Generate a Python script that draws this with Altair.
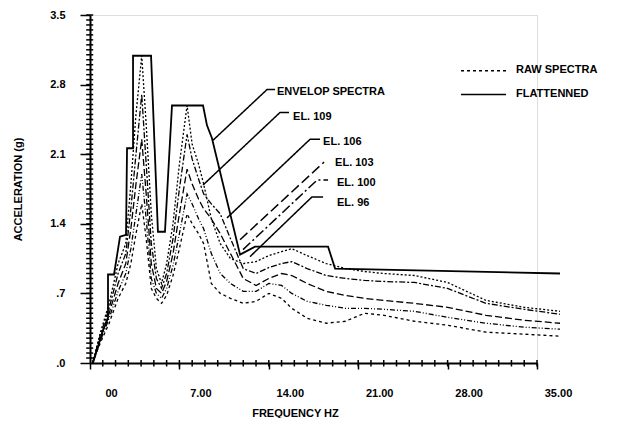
import altair as alt
import pandas as pd

# ---------------- data ----------------
RAW_FREQ = [0.2, 0.8, 1.5, 2.2, 2.8, 3.2, 3.6, 4.05, 4.4, 4.8, 5.2, 5.6, 6.0, 6.5, 7.0, 7.6,
            8.0, 8.5, 8.9, 9.5, 10.2, 11.0, 12.0, 13.0, 14.0, 15.0, 15.8, 17.0, 18.5, 20.0,
            21.5, 23.0, 25.4, 28.0, 31.0, 34.0, 36.8]
EL109 = [0.0, 0.3, 0.6, 1.0, 1.2, 1.8, 2.5, 3.09, 2.4, 1.5, 0.95, 0.8, 1.0, 1.4, 2.0, 2.59,
         2.2, 2.0, 1.8, 1.45, 1.2, 1.05, 1.0, 1.02, 1.08, 1.12, 1.15, 1.08, 1.0, 0.95,
         0.92, 0.9, 0.88, 0.81, 0.63, 0.56, 0.52]
EL106 = [0.0, 0.28, 0.55, 0.9, 1.1, 1.55, 2.1, 2.7, 2.0, 1.2, 0.85, 0.75, 0.9, 1.25, 1.75, 2.3,
         2.05, 1.85, 1.7, 1.6, 1.5, 1.25, 0.95, 0.9, 0.96, 1.0, 1.02, 0.95, 0.88, 0.85,
         0.83, 0.82, 0.81, 0.75, 0.6, 0.54, 0.49]
EL103 = [0.0, 0.25, 0.5, 0.8, 1.0, 1.35, 1.8, 2.25, 1.7, 1.0, 0.75, 0.7, 0.82, 1.1, 1.5, 1.95,
         1.8, 1.65, 1.55, 1.45, 1.3, 1.1, 0.85, 0.78, 0.85, 0.9, 0.88, 0.8, 0.72, 0.68,
         0.65, 0.63, 0.6, 0.56, 0.48, 0.43, 0.40]
EL100 = [0.0, 0.22, 0.45, 0.72, 0.9, 1.15, 1.5, 1.9, 1.45, 0.85, 0.7, 0.65, 0.75, 0.98, 1.3, 1.7,
         1.6, 1.45, 1.35, 1.1, 0.9, 0.8, 0.72, 0.72, 0.8, 0.78, 0.7, 0.62, 0.58, 0.55,
         0.55, 0.54, 0.52, 0.46, 0.4, 0.36, 0.34]
EL96 = [0.0, 0.2, 0.4, 0.65, 0.8, 1.0, 1.3, 1.6, 1.25, 0.75, 0.65, 0.6, 0.68, 0.88, 1.15, 1.5,
        1.4, 1.3, 1.2, 0.8, 0.7, 0.65, 0.6, 0.62, 0.7, 0.65, 0.55, 0.45, 0.4, 0.42,
        0.5, 0.48, 0.42, 0.38, 0.31, 0.29, 0.27]

ENV_FREQ = [0.23, 1.02, 1.41, 1.41, 1.88, 2.35, 2.82, 2.90, 3.37, 3.37, 4.78, 5.32, 5.87, 6.42,
            8.85, 9.16, 9.55, 11.75, 12.92, 18.64, 19.19, 36.8]
ENV_ACC = [0.0, 0.33, 0.45, 0.89, 0.89, 1.27, 1.29, 2.16, 2.16, 3.09, 3.09, 1.32, 1.32, 2.59,
           2.59, 2.39, 2.26, 1.09, 1.17, 1.17, 0.95, 0.90]

SERIES = ["EL.109", "EL.106", "EL.103", "EL.100", "EL.96"]
SERIES_DASH = [[2, 2], [6, 2, 2, 2], [7, 3], [5, 2, 1, 2, 1, 2], [3, 3]]

X_TICKS = [0, 7, 14, 21, 28, 35]
X_TICK_LABELS = ["00", "7.00", "14.00", "21.00", "28.00", "35.00"]
Y_TICKS = [0, 0.7, 1.4, 2.1, 2.8, 3.5]
Y_TICK_LABELS = [".0", ".7", "1.4", "2.1", "2.8", "3.5"]
X_MINOR = [float(v) for v in range(1, 36)]
Y_MINOR = [round(i * 0.05, 2) for i in range(1, 71)]

LABEL_TEXT = ["ENVELOP SPECTRA", "EL. 109", "EL. 106", "EL. 103", "EL. 100", "EL. 96"]
LABEL_F = [14.64, 15.9, 18.25, 19.19, 19.34, 19.34]
LABEL_A = [2.73, 2.47, 2.22, 2.01, 1.81, 1.61]

LEADER_ID = ["ENV", "109", "106", "103", "100", "96", "LEG_RAW", "LEG_FLAT"]
LEADER_F = [[9.63, 13.86, 14.49], [8.85, 14.88, 15.58], [10.73, 17.23, 18.01], [11.75, 18.32],
            [11.98, 17.78, 18.64], [12.53, 17.38, 18.25], [29.05, 32.58], [29.05, 32.58]]
LEADER_A = [[2.24, 2.75, 2.75], [1.79, 2.52, 2.52], [1.46, 2.25, 2.25], [1.24, 2.02],
            [1.14, 1.84, 1.84], [1.07, 1.67, 1.67], [2.94, 2.94], [2.70, 2.70]]
LEADER_DASH = [[1, 0], [1, 0], [1, 0], [10, 4], [10, 3, 2, 3], [1, 0], [3, 3], [1, 0]]

LEGEND_TEXT = ["RAW SPECTRA", "FLATTENNED"]
LEGEND_F = [33.36, 33.36]
LEGEND_A = [2.95, 2.71]

# ---------------- tables ----------------
raw_rows = []
for name, vals in zip(SERIES, [EL109, EL106, EL103, EL100, EL96]):
    for i, (f, a) in enumerate(zip(RAW_FREQ, vals)):
        raw_rows.append({"series": name, "f": f, "a": a, "o": i})
raw_df = pd.DataFrame(raw_rows)

env_df = pd.DataFrame({"f": ENV_FREQ, "a": ENV_ACC, "o": list(range(len(ENV_FREQ)))})

lead_rows = []
for lid, fs, as_ in zip(LEADER_ID, LEADER_F, LEADER_A):
    for i, (f, a) in enumerate(zip(fs, as_)):
        lead_rows.append({"id": lid, "f": f, "a": a, "o": i})
lead_df = pd.DataFrame(lead_rows)

lab_df = pd.DataFrame({"t": LABEL_TEXT, "f": LABEL_F, "a": LABEL_A})
leg_df = pd.DataFrame({"t": LEGEND_TEXT, "f": LEGEND_F, "a": LEGEND_A})
# minor tick marks drawn as short segments straddling the axis lines
minor_rows = []
for k, v in enumerate(Y_MINOR):
    minor_rows.append({"id": "y%d" % k, "f": -0.3, "a": v, "o": 0})
    minor_rows.append({"id": "y%d" % k, "f": 0.25, "a": v, "o": 1})
for k, v in enumerate(X_MINOR):
    minor_rows.append({"id": "x%d" % k, "f": v, "a": -0.035, "o": 0})
    minor_rows.append({"id": "x%d" % k, "f": v, "a": 0.03, "o": 1})
minor_df = pd.DataFrame(minor_rows)

FONT = "Liberation Sans"

def js_arr(vals, quote=False):
    if quote:
        return "[" + ",".join("'%s'" % v for v in vals) + "]"
    return "[" + ",".join("%g" % v for v in vals) + "]"

x_expr = js_arr(X_TICK_LABELS, True) + "[indexof(" + js_arr(X_TICKS) + ", datum.value)]"
y_expr = js_arr(Y_TICK_LABELS, True) + "[indexof(" + js_arr(Y_TICKS) + ", datum.value)]"

xs = alt.Scale(domain=[0, 35], nice=False, zero=False)
ys = alt.Scale(domain=[0, 3.5], nice=False, zero=False)

x_major = alt.Axis(values=X_TICKS, labelExpr=x_expr, orient="bottom", grid=False,
                   tickSize=6, tickWidth=1.5, tickColor="black", domainColor="black",
                   domainWidth=2, labelFont=FONT, labelFontSize=11, labelFontWeight="bold",
                   labelColor="black", labelPadding=18, labelOffset=21, labelFlush=False,
                   title="FREQUENCY HZ", titleFont=FONT, titleFontSize=11,
                   titleFontWeight="bold", titleColor="black", titleX=205, titleY=50,
                   titleBaseline="middle", titleAlign="center")
y_major = alt.Axis(values=Y_TICKS, labelExpr=y_expr, orient="left", grid=False,
                   tickSize=10, tickWidth=1.5, tickColor="black", domainColor="black",
                   domainWidth=2, labelFont=FONT, labelFontSize=11, labelFontWeight="bold",
                   labelColor="black", labelPadding=15, labelFlush=False,
                   title="ACCELERATION (g)", titleFont=FONT, titleFontSize=11,
                   titleFontWeight="bold", titleColor="black", titleAngle=-90,
                   titleX=-72, titleY=174, titleBaseline="middle", titleAlign="center")

raw = alt.Chart(raw_df).mark_line(color="black", strokeWidth=1.3).encode(
    x=alt.X("f:Q", scale=xs, axis=x_major),
    y=alt.Y("a:Q", scale=ys, axis=y_major),
    strokeDash=alt.StrokeDash("series:N", scale=alt.Scale(domain=SERIES, range=SERIES_DASH),
                              legend=None),
    order="o:Q",
)

env = alt.Chart(env_df).mark_line(color="black", strokeWidth=1.8).encode(
    x=alt.X("f:Q", scale=xs, axis=None),
    y=alt.Y("a:Q", scale=ys, axis=None),
    order="o:Q",
)

minor = alt.Chart(minor_df).mark_line(color="black", strokeWidth=1.5).encode(
    x=alt.X("f:Q", scale=xs, axis=None),
    y=alt.Y("a:Q", scale=ys, axis=None),
    detail="id:N",
    order="o:Q",
)

leaders = alt.Chart(lead_df).mark_line(color="black", strokeWidth=1.5).encode(
    x=alt.X("f:Q", scale=xs, axis=None),
    y=alt.Y("a:Q", scale=ys, axis=None),
    strokeDash=alt.StrokeDash("id:N", scale=alt.Scale(domain=LEADER_ID, range=LEADER_DASH),
                              legend=None),
    order="o:Q",
)

labels = alt.Chart(lab_df).mark_text(align="left", baseline="middle", font=FONT, fontSize=11,
                                     fontWeight="bold", color="black").encode(
    x=alt.X("f:Q", scale=xs, axis=None),
    y=alt.Y("a:Q", scale=ys, axis=None),
    text="t:N",
)

legend_text = alt.Chart(leg_df).mark_text(align="left", baseline="middle", font=FONT,
                                          fontSize=11, fontWeight="bold", color="black").encode(
    x=alt.X("f:Q", scale=xs, axis=None),
    y=alt.Y("a:Q", scale=ys, axis=None),
    text="t:N",
)

chart = alt.layer(raw, env, minor, leaders, labels, legend_text).resolve_axis(
    x="independent", y="independent"
).resolve_scale(strokeDash="independent").properties(
    width=447, height=348,
    padding={"left": 82, "top": 7, "right": 88, "bottom": 55},
    autosize=alt.AutoSizeParams(type="none"),
).configure_view(stroke=None).configure(background="white")

chart.save("out.html", embed_options={"renderer": "svg", "actions": False})
